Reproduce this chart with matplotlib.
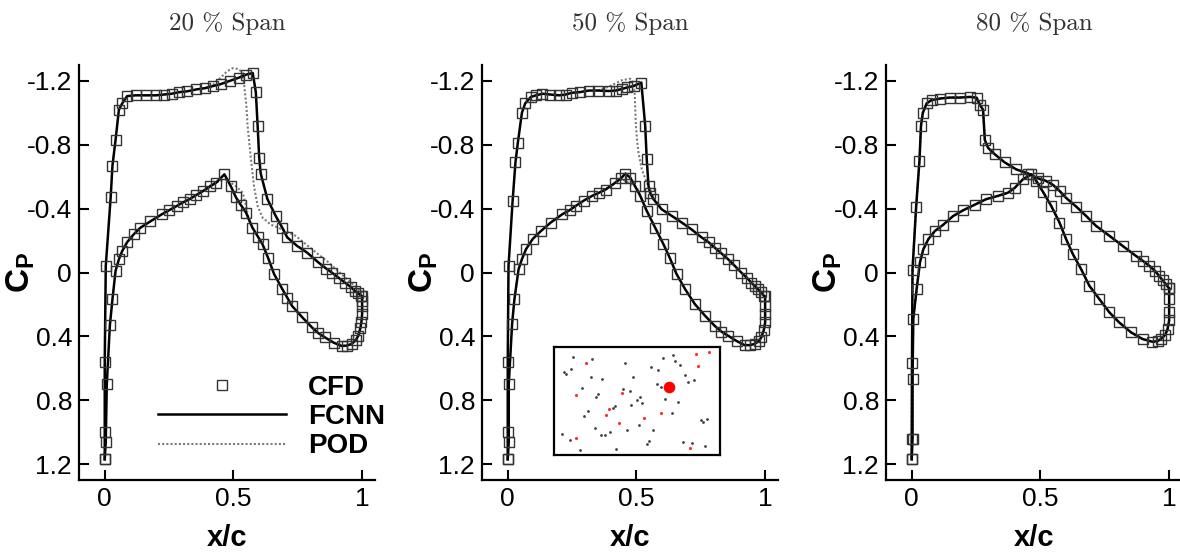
import numpy as np
import matplotlib
matplotlib.use('Agg')
import matplotlib.pyplot as plt

plt.rcParams['font.family'] = ['Liberation Sans', 'DejaVu Sans']
plt.rcParams['axes.unicode_minus'] = False
plt.rcParams['mathtext.fontset'] = 'custom'
plt.rcParams['mathtext.bf'] = 'Liberation Sans:bold'
plt.rcParams['mathtext.rm'] = 'Liberation Sans'

########## data: x/c and Cp per span section
##### 20 % span
x_a_20 = [0.0, 0.0, 0.0, 0.004, 0.023, 0.03, 0.042, 0.055, 0.068, 0.087, 0.12, 0.16, 0.2,
          0.23, 0.26, 0.29, 0.32, 0.356, 0.39, 0.42, 0.45, 0.485, 0.52, 0.55, 0.575, 0.587,
          0.594, 0.6, 0.606, 0.632, 0.664, 0.69, 0.709, 0.747, 0.786, 0.83, 0.86, 0.882,
          0.91, 0.933, 0.955, 0.972, 0.985, 0.997]
cp_a_20 = [1.17, 1.0, 0.56, -0.04, -0.47, -0.67, -0.83, -1.02, -1.06, -1.105, -1.11, -1.11,
           -1.11, -1.115, -1.12, -1.13, -1.135, -1.147, -1.155, -1.168, -1.18, -1.2, -1.22,
           -1.24, -1.25, -1.13, -0.92, -0.72, -0.62, -0.46, -0.355, -0.28, -0.22, -0.167,
           -0.125, -0.063, -0.025, 0.0, 0.035, 0.063, 0.09, 0.115, 0.13, 0.146]
x_b_20 = [0.0, 0.004, 0.008, 0.02, 0.03, 0.042, 0.055, 0.068, 0.087, 0.113, 0.138, 0.177,
          0.222, 0.25, 0.28, 0.305, 0.33, 0.355, 0.382, 0.41, 0.433, 0.465, 0.49, 0.51,
          0.53, 0.549, 0.574, 0.595, 0.613, 0.635, 0.658, 0.69, 0.71, 0.728, 0.767, 0.805,
          0.83, 0.856, 0.89, 0.92, 0.94, 0.959, 0.975, 0.985, 0.993, 0.997, 1.0, 1.0, 1.0,
          1.0]
cp_b_20 = [1.17, 1.06, 0.70, 0.33, 0.167, -0.01, -0.083, -0.135, -0.19, -0.24, -0.28, -0.32,
           -0.365, -0.39, -0.417, -0.44, -0.46, -0.485, -0.51, -0.54, -0.563, -0.615, -0.54,
           -0.47, -0.42, -0.375, -0.28, -0.225, -0.177, -0.09, 0.01, 0.104, 0.16, 0.21, 0.28,
           0.344, 0.38, 0.407, 0.44, 0.46, 0.458, 0.448, 0.425, 0.396, 0.35, 0.313, 0.26,
           0.21, 0.18, 0.15]
x_pod_a_20 = [0.39, 0.42, 0.45, 0.475, 0.497, 0.52, 0.536, 0.542, 0.55, 0.555, 0.568, 0.58,
              0.594, 0.613, 0.645, 0.69, 0.741, 0.805, 0.87, 0.933, 0.985, 1.0]
cp_pod_a_20 = [-1.155, -1.175, -1.22, -1.26, -1.28, -1.275, -1.25, -1.17, -1.05, -0.92,
               -0.71, -0.54, -0.417, -0.344, -0.30, -0.27, -0.23, -0.146, -0.063, 0.03,
               0.104, 0.135]
x_pod_b_20 = [0.38, 0.41, 0.433, 0.472, 0.51, 0.536, 0.549, 0.56, 0.574]
cp_pod_b_20 = [-0.51, -0.545, -0.565, -0.584, -0.54, -0.50, -0.417, -0.33, -0.28]

##### 50 % span
x_a_50 = [0.0, 0.0, 0.0, 0.003, 0.019, 0.03, 0.039, 0.055, 0.068, 0.09, 0.11, 0.135, 0.165,
          0.2, 0.225, 0.25, 0.28, 0.315, 0.35, 0.393, 0.42, 0.444, 0.465, 0.489, 0.519,
          0.534, 0.54, 0.547, 0.553, 0.566, 0.598, 0.637, 0.676, 0.714, 0.753, 0.78, 0.804,
          0.83, 0.856, 0.88, 0.907, 0.93, 0.946, 0.96, 0.972, 0.985, 0.997]
cp_a_50 = [1.17, 1.0, 0.56, -0.04, -0.45, -0.69, -0.81, -1.0, -1.06, -1.10, -1.11, -1.12,
           -1.115, -1.11, -1.115, -1.126, -1.13, -1.14, -1.14, -1.137, -1.14, -1.15, -1.16,
           -1.168, -1.19, -0.92, -0.71, -0.54, -0.50, -0.46, -0.396, -0.355, -0.313, -0.27,
           -0.22, -0.19, -0.156, -0.12, -0.083, -0.045, 0.0, 0.035, 0.063, 0.085, 0.104,
           0.125, 0.15]
x_b_50 = [0.0, 0.004, 0.004, 0.017, 0.026, 0.042, 0.055, 0.071, 0.097, 0.129, 0.167, 0.212,
          0.24, 0.264, 0.295, 0.328, 0.355, 0.38, 0.418, 0.44, 0.457, 0.476, 0.495, 0.515,
          0.54, 0.573, 0.605, 0.63, 0.656, 0.689, 0.727, 0.766, 0.804, 0.83, 0.856, 0.89,
          0.92, 0.94, 0.959, 0.975, 0.985, 0.995, 1.0, 1.0, 1.0, 1.0]
cp_b_50 = [1.17, 1.06, 0.70, 0.32, 0.167, -0.02, -0.083, -0.146, -0.21, -0.26, -0.313,
           -0.365, -0.39, -0.417, -0.45, -0.48, -0.50, -0.52, -0.563, -0.59, -0.62, -0.594,
           -0.54, -0.48, -0.386, -0.28, -0.177, -0.09, 0.01, 0.104, 0.198, 0.27, 0.334, 0.37,
           0.396, 0.43, 0.455, 0.455, 0.448, 0.43, 0.407, 0.36, 0.313, 0.26, 0.21, 0.15]
x_pod_a_50 = [0.35, 0.4, 0.444, 0.476, 0.488, 0.493, 0.496, 0.498, 0.503, 0.508, 0.521,
              0.54, 0.56, 0.579, 0.598]
cp_pod_a_50 = [-1.14, -1.17, -1.205, -1.214, -1.19, -1.126, -1.0, -0.92, -0.82, -0.75,
               -0.646, -0.563, -0.5, -0.438, -0.396]
x_pod_b_50 = [0.38, 0.418, 0.444, 0.47, 0.502, 0.521, 0.54]
cp_pod_b_50 = [-0.52, -0.56, -0.584, -0.563, -0.53, -0.458, -0.386]

##### 80 % span
x_a_80 = [0.0, 0.0, 0.001, 0.003, 0.017, 0.03, 0.036, 0.043, 0.058, 0.077, 0.11, 0.148,
          0.187, 0.226, 0.252, 0.265, 0.277, 0.284, 0.297, 0.323, 0.361, 0.406, 0.452, 0.49,
          0.52, 0.548, 0.575, 0.6, 0.639, 0.677, 0.716, 0.768, 0.819, 0.871, 0.9, 0.923,
          0.945, 0.961, 0.975, 0.987, 1.0]
cp_a_80 = [1.17, 1.04, 0.57, -0.017, -0.41, -0.70, -0.92, -1.0, -1.06, -1.08, -1.09, -1.096,
           -1.096, -1.10, -1.095, -1.05, -1.02, -0.83, -0.78, -0.74, -0.69, -0.646, -0.62,
           -0.59, -0.575, -0.55, -0.51, -0.467, -0.413, -0.355, -0.292, -0.23, -0.167,
           -0.104, -0.07, -0.042, -0.01, 0.021, 0.05, 0.073, 0.1]
x_b_80 = [0.0, 0.003, 0.003, 0.006, 0.019, 0.032, 0.045, 0.065, 0.09, 0.123, 0.161, 0.2,
          0.245, 0.29, 0.335, 0.374, 0.4, 0.432, 0.465, 0.484, 0.51, 0.542, 0.574, 0.6,
          0.626, 0.658, 0.69, 0.729, 0.768, 0.806, 0.852, 0.897, 0.935, 0.955, 0.968, 0.985,
          0.994, 1.0, 1.0, 1.0, 1.0]
cp_b_80 = [1.17, 1.04, 0.67, 0.29, 0.104, -0.063, -0.146, -0.21, -0.26, -0.30, -0.354,
           -0.39, -0.425, -0.46, -0.48, -0.50, -0.53, -0.584, -0.615, -0.573, -0.505, -0.417,
           -0.313, -0.208, -0.115, -0.021, 0.083, 0.167, 0.25, 0.313, 0.375, 0.417, 0.434,
           0.43, 0.417, 0.39, 0.354, 0.3, 0.25, 0.167, 0.1]

span_titles = ['20 % Span', '50 % Span', '80 % Span']
y_ticks = [-1.2, -0.8, -0.4, 0, 0.4, 0.8, 1.2]
y_tick_labels = ['-1.2', '-0.8', '-0.4', '0', '0.4', '0.8', '1.2']
x_ticks = [0, 0.5, 1]
x_tick_labels = ['0', '0.5', '1']

##### design-space samples shown in the inset (normalised coordinates)
samp_black_u = [0.114, 0.228, 0.100, 0.061, 0.075, 0.222, 0.291, 0.429, 0.478, 0.169, 0.268,
                0.254, 0.413, 0.459, 0.518, 0.498, 0.531, 0.465, 0.370, 0.358, 0.203, 0.183,
                0.587, 0.626, 0.657, 0.717, 0.728, 0.760, 0.618, 0.642, 0.791, 0.807, 0.844,
                0.669, 0.748, 0.709, 0.248, 0.337, 0.281, 0.305, 0.441, 0.510, 0.594, 0.575,
                0.563, 0.374, 0.157, 0.049, 0.094, 0.780, 0.831, 0.884, 0.896, 0.923, 0.909]
samp_black_v = [0.908, 0.889, 0.800, 0.766, 0.751, 0.723, 0.705, 0.852, 0.720, 0.622, 0.569,
                0.542, 0.612, 0.597, 0.538, 0.511, 0.483, 0.462, 0.452, 0.434, 0.412, 0.360,
                0.812, 0.785, 0.898, 0.926, 0.868, 0.837, 0.662, 0.634, 0.742, 0.677, 0.692,
                0.523, 0.495, 0.391, 0.252, 0.212, 0.188, 0.182, 0.237, 0.283, 0.228, 0.129,
                0.102, 0.058, 0.043, 0.197, 0.138, 0.120, 0.114, 0.323, 0.305, 0.335, 0.080]
samp_red_u = [0.193, 0.856, 0.935, 0.870, 0.130, 0.407, 0.331, 0.311, 0.390, 0.543, 0.646,
              0.130, 0.817]
samp_red_v = [0.858, 0.938, 0.954, 0.825, 0.554, 0.575, 0.425, 0.372, 0.302, 0.342, 0.394,
              0.163, 0.068]
target_u = [0.691]
target_v = [0.631]

panels = [
    (x_a_20, cp_a_20, x_b_20, cp_b_20, [(x_pod_a_20, cp_pod_a_20), (x_pod_b_20, cp_pod_b_20)]),
    (x_a_50, cp_a_50, x_b_50, cp_b_50, [(x_pod_a_50, cp_pod_a_50), (x_pod_b_50, cp_pod_b_50)]),
    (x_a_80, cp_a_80, x_b_80, cp_b_80, [(x_a_80, cp_a_80), (x_b_80, cp_b_80)]),
]

fig = plt.figure(figsize=(11.8, 5.52), dpi=100)
lefts = [79 / 1180, 482 / 1180, 886 / 1180]
axes = []
for i, (xa, ca, xb, cb, pods) in enumerate(panels):
    ax = fig.add_axes([lefts[i], 72 / 552, 296 / 1180, 415 / 552])
    axes.append(ax)
    # POD first so that it sits below the other curves
    for k, (xp, cpp) in enumerate(pods):
        ax.plot(xp, cpp, linestyle=(0, (1, 1)), color='#7a7a7a', lw=1.5,
                label='POD' if k == 0 else None, zorder=2)
    ax.plot(xa, ca, color='black', lw=1.8, label='FCNN', zorder=3)
    ax.plot(xb, cb, color='black', lw=1.8, zorder=3)
    ax.plot(xa, ca, 's', mfc='none', mec='#333333', ms=7, mew=1.0, label='CFD', zorder=4)
    ax.plot(xb, cb, 's', mfc='none', mec='#333333', ms=7, mew=1.0, zorder=4)

    ax.set_xlim(-0.1, 1.05)
    ax.set_ylim(1.3, -1.3)
    ax.set_yticks(y_ticks)
    ax.set_yticklabels(y_tick_labels)
    ax.set_xticks(x_ticks)
    ax.set_xticklabels(x_tick_labels)
    ax.tick_params(direction='in', length=7, width=1.5, pad=5, labelsize=19)
    for s in ['top', 'right']:
        ax.spines[s].set_visible(False)
    for s in ['left', 'bottom']:
        ax.spines[s].set_linewidth(1.6)
    ax.set_xlabel('x/c', fontsize=21, fontweight='bold')
    ax.xaxis.set_label_coords(0.5, -0.105)
    ax.set_ylabel(r'$\mathbf{C_P}$', fontsize=24)
    ax.yaxis.set_label_coords(-0.142, 0.5)
    ax.set_title(span_titles[i], fontfamily=['cmr10', 'DejaVu Serif'], fontsize=18,
                 color='#333333', pad=25)

# legend on the first panel
h, l = axes[0].get_legend_handles_labels()
order = [l.index('CFD'), l.index('FCNN'), l.index('POD')]
axes[0].legend([h[j] for j in order], [l[j] for j in order], loc='center left',
               bbox_to_anchor=(0.267, 0.152), frameon=False, borderpad=0,
               borderaxespad=0, handlelength=4.6, handletextpad=0.8, labelspacing=0.12,
               prop={'weight': 'bold', 'size': 20})

# inset with the sample distribution on the middle panel
axin = axes[1].inset_axes([0.243, 0.060, 0.561, 0.260])
axin.scatter(samp_black_u, samp_black_v, s=4, color='#404040', lw=0)
axin.scatter(samp_red_u, samp_red_v, s=5, color='#ff2a2a', lw=0)
axin.scatter(target_u, target_v, s=70, color='#ff0000', lw=0)
axin.set_xlim(0, 1)
axin.set_ylim(0, 1)
axin.set_xticks([])
axin.set_yticks([])
for s in axin.spines.values():
    s.set_linewidth(1.6)

fig.savefig('out.png', dpi=100)
